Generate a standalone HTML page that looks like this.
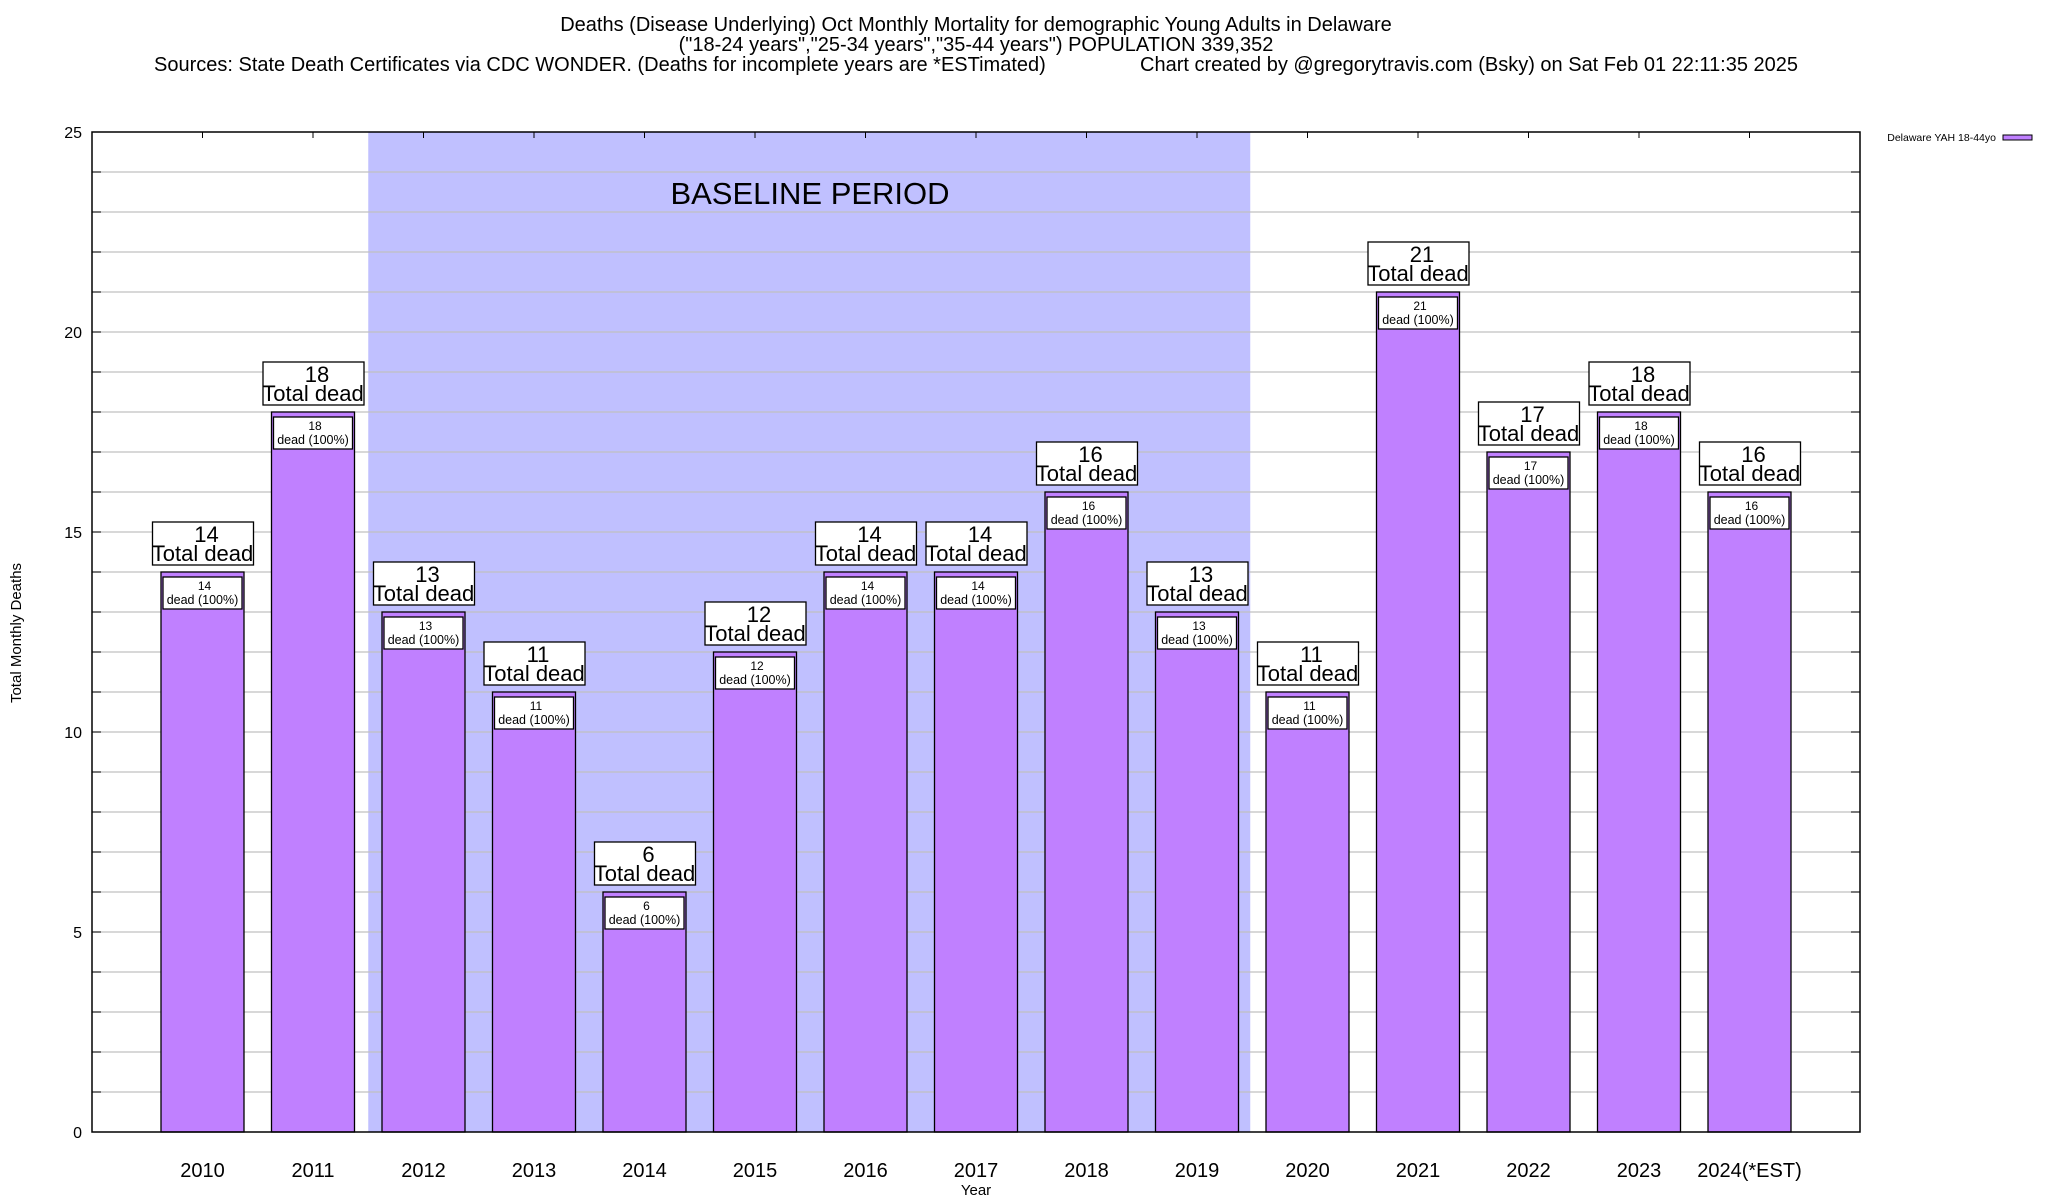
<!DOCTYPE html>
<html><head><meta charset="utf-8"><style>
html,body{margin:0;padding:0;background:#fff;}
svg{display:block;font-family:"Liberation Sans",Arial,sans-serif;}
</style></head><body>
<svg id="chart" width="2048" height="1200" viewBox="0 0 2048 1200" xmlns="http://www.w3.org/2000/svg">
<g font-size="20" fill="#000">
<text x="976" y="31" text-anchor="middle">Deaths (Disease Underlying) Oct Monthly Mortality for demographic Young Adults in Delaware</text>
<text x="976" y="51" text-anchor="middle">("18-24 years","25-34 years","35-44 years") POPULATION 339,352</text>
<text x="154" y="71">Sources: State Death Certificates via CDC WONDER. (Deaths for incomplete years are *ESTimated)</text>
<text x="1140" y="71">Chart created by @gregorytravis.com (Bsky) on Sat Feb 01 22:11:35 2025</text>
</g>
<g id="plot"></g>
<text transform="translate(21,633) rotate(-90)" text-anchor="middle" font-size="15">Total Monthly Deaths</text>
<text x="976" y="1195" text-anchor="middle" font-size="15">Year</text>
<g>
<text x="1996" y="141" text-anchor="end" font-size="10.5">Delaware YAH 18-44yo</text>
<rect x="2003" y="135" width="29" height="5" fill="#c080ff" stroke="#000" stroke-width="1"/>
</g>
</svg>
<script>
const categories = ["2010","2011","2012","2013","2014","2015","2016","2017","2018","2019","2020","2021","2022","2023","2024(*EST)"];
const deaths = [14,18,13,11,6,12,14,14,16,13,11,21,17,18,16];
const yTicks = [0,5,10,15,20,25];
const baselineRange = [2012,2019];

const NS="http://www.w3.org/2000/svg";
const plot=document.getElementById('plot');
const L=92,R=1860,T=132,B=1132,yMax=25;
const slot=(R-L)/(categories.length+1);
const xs=i=>L+(i+1)*slot;
const ys=v=>B-(v/yMax)*(B-T);
const barW=83;
function mk(tag,attrs,parent){const e=document.createElementNS(NS,tag);for(const k in attrs)e.setAttribute(k,attrs[k]);(parent||plot).appendChild(e);return e;}

const bi0=categories.indexOf(String(baselineRange[0])), bi1=categories.indexOf(String(baselineRange[1]));
const sx0=xs(bi0)-slot/2, sx1=xs(bi1)+slot/2-2;
const shade=mk('rect',{x:sx0,y:T,width:sx1-sx0,height:B-T,fill:'#c0c0ff'});


const bl=mk('text',{x:810,y:204,'text-anchor':'middle','font-size':31});
bl.textContent='BASELINE PERIOD';



for(let v=1;v<yMax;v++){
  const g=mk('line',{x1:L,x2:R,y1:ys(v),y2:ys(v),stroke:'#c0c0c0','stroke-width':1.2});
  
  
  mk('line',{x1:L,x2:L+9,y1:ys(v),y2:ys(v),stroke:'#000','stroke-width':1});
  mk('line',{x1:R-9,x2:R,y1:ys(v),y2:ys(v),stroke:'#000','stroke-width':1});
}
yTicks.forEach(v=>{
  const t=mk('text',{x:L-10,y:ys(v)+6,'text-anchor':'end','font-size':16});
  t.textContent=v;
  
  
});

categories.forEach((c,i)=>{
  const cx=xs(i), v=deaths[i], top=ys(v);
  const b=mk('rect',{x:cx-barW/2,y:top,width:barW,height:B-top,fill:'#c080ff',stroke:'#000','stroke-width':1.3});
  
  
  const ib=mk('rect',{x:cx-barW/2+2,y:top+5,width:barW-4,height:32,fill:'#fff',stroke:'#000','stroke-width':1.3});
  
  
  const t1=mk('text',{x:cx+2,y:top+18,'text-anchor':'middle','font-size':12});
  t1.textContent=v;
  
  
  const t2=mk('text',{x:cx,y:top+32,'text-anchor':'middle','font-size':12.5});
  t2.textContent='dead (100%)';
  
  
  const ob=mk('rect',{x:cx-50,y:top-50,width:101,height:43,fill:'#fff',stroke:'#000','stroke-width':1.3});
  
  
  const o1=mk('text',{x:cx+4,y:top-30,'text-anchor':'middle','font-size':22});
  o1.textContent=v;
  
  
  const o2=mk('text',{x:cx,y:top-11,'text-anchor':'middle','font-size':22});
  o2.textContent='Total dead';
  
  
  const xl=mk('text',{x:cx,y:1177,'text-anchor':'middle','font-size':20});
  xl.textContent=c;
  
  
  mk('line',{x1:cx,x2:cx,y1:T,y2:T+6,stroke:'#000','stroke-width':1});
});
const fr=mk('rect',{x:L,y:T,width:R-L,height:B-T,fill:'none',stroke:'#000','stroke-width':1.5});


</script>
</body></html>
